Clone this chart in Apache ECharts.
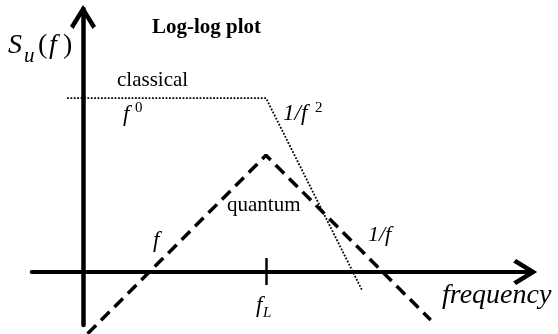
<!DOCTYPE html>
<html>
<head>
<meta charset="utf-8">
<script src="https://cdn.jsdelivr.net/npm/echarts@6/dist/echarts.min.js"></script>
<style>
html,body{margin:0;padding:0;background:#fff;}
#main{width:558px;height:334px;}
</style>
</head>
<body>
<div id="main"></div>
<script>
// log-frequency (x) and log-spectrum (y) in arbitrary log units
const classicalX = [-0.35, 4.0, 6.1];
const classicalY = [3.8, 3.8, -0.4];
const quantumX = [0.1, 4.0, 7.6];
const quantumY = [-1.35, 2.55, -1.05];
const fLValue = [4];
const tickLabels = ['f_L'];

const SERIF = '"Liberation Serif", "Times New Roman", serif';
const chevron = 'path://M13,0 L26,21 L22.5,24 L13,8.5 L3.5,24 L0,21 Z';

const chart = echarts.init(document.getElementById('main'), null, {renderer: 'canvas'});

function txt(text, x, y, size, opts) {
  opts = opts || {};
  return {
    type: 'text',
    silent: true,
    style: {
      text: text, x: x, y: y,
      fill: '#000',
      font: (opts.italic ? 'italic ' : '') + (opts.bold ? 'bold ' : '') + size + 'px ' + SERIF,
      textAlign: opts.align || 'left',
      textVerticalAlign: 'middle',
      verticalAlign: 'middle'
    },
    z: 100
  };
}

const fLParts = tickLabels[0].split('_');

const option = {
  animation: false,
  backgroundColor: '#fff',
  grid: {left: 31.76, right: 24.8, top: 8.94, bottom: 8.93, containLabel: false, outerBoundsMode: 'none'},
  xAxis: [{
    type: 'value', position: 'bottom',
    min: -1.12, max: 9.84,
    splitLine: {show: false},
    axisLine: {show: true, onZero: true, onZeroAxisIndex: 0,
      lineStyle: {color: '#000', width: 4},
      symbol: ['none', chevron], symbolSize: [26, 24], symbolOffset: [0, -8]},
    axisTick: {show: true, customValues: fLValue, length: 13, inside: false,
      lineStyle: {color: '#000', width: 2.5}},
    axisLabel: {show: false}
  }, {
    type: 'value', position: 'top',
    min: -1.12, max: 9.84,
    splitLine: {show: false},
    axisLine: {show: false, onZero: true, onZeroAxisIndex: 0},
    axisTick: {show: true, customValues: fLValue, length: 14, inside: false,
      lineStyle: {color: '#000', width: 2.5}},
    axisLabel: {show: false}
  }],
  yAxis: {
    type: 'value',
    min: -1.16, max: 5.75,
    splitLine: {show: false},
    axisLine: {show: true, onZero: true,
      lineStyle: {color: '#000', width: 4.5},
      symbol: ['none', chevron], symbolSize: [26, 24], symbolOffset: [0, -8]},
    axisTick: {show: false},
    axisLabel: {show: false}
  },
  series: [{
    name: 'classical',
    type: 'line',
    clip: false,
    showSymbol: false,
    symbol: 'none',
    data: classicalX.map((x, i) => [x, classicalY[i]]),
    lineStyle: {color: '#000', width: 1.8, type: [1.8, 1.6]},
    z: 5
  }, {
    name: 'quantum',
    type: 'line',
    clip: false,
    showSymbol: false,
    symbol: 'none',
    data: quantumX.map((x, i) => [x, quantumY[i]]),
    lineStyle: {color: '#000', width: 3.5, type: [12, 7]},
    z: 5
  }],
  graphic: [
    txt('Log-log plot', 152, 28, 21, {bold: true}),
    txt('S', 8, 46, 28, {italic: true}),
    txt('u', 24, 56, 21, {italic: true}),
    txt('(', 38, 46, 28),
    txt('f', 49, 46, 28, {italic: true}),
    txt(')', 63, 46, 28),
    txt('classical', 117, 80, 21),
    txt('f', 123, 114.5, 23, {italic: true}),
    txt('0', 135, 108, 15),
    txt('1/f', 283, 113.5, 23, {italic: true}),
    txt('2', 315, 108, 15),
    txt('quantum', 227, 205, 21),
    txt('f', 153, 240.5, 23, {italic: true}),
    txt('1/f', 368, 235.5, 22, {italic: true}),
    txt(fLParts[0], 256, 305.5, 23, {italic: true}),
    txt(fLParts[1], 263, 313, 15, {italic: true}),
    txt('frequency', 442, 296, 28, {italic: true})
  ]
};
chart.setOption(option);
</script>
</body>
</html>
